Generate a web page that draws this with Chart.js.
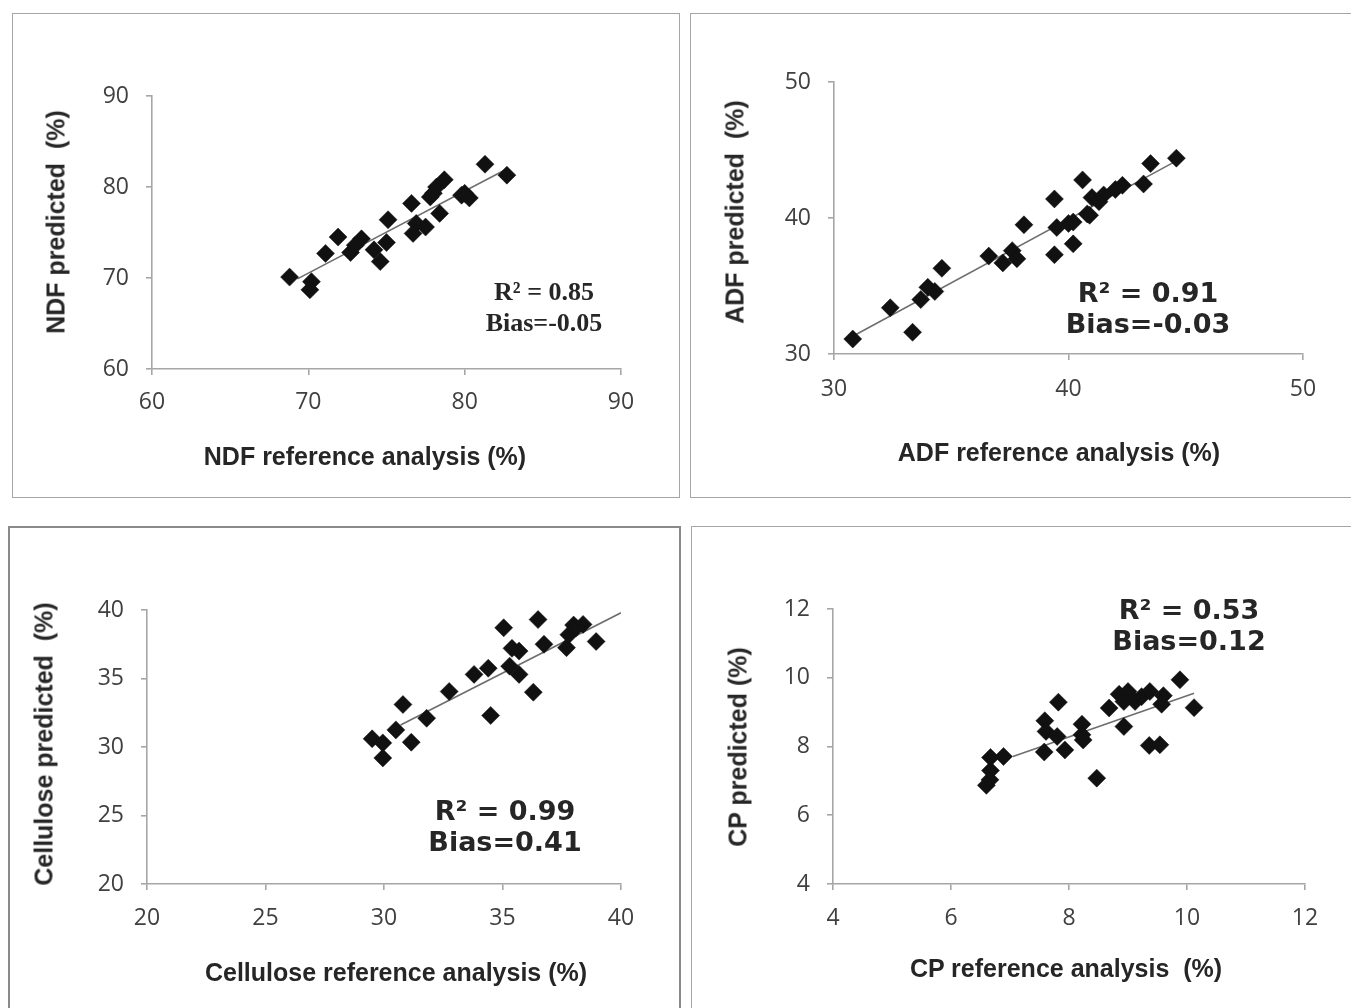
<!DOCTYPE html>
<html><head><meta charset="utf-8">
<script src="https://cdn.jsdelivr.net/npm/chart.js@4.4.1/dist/chart.umd.min.js"></script>
<style>
html,body{margin:0;padding:0;background:#fff;}
#page{position:relative;width:1351px;height:1008px;overflow:hidden;background:#fff;}
canvas{position:absolute;left:0;top:0;}
.box{position:absolute;border:1.5px solid #a6a6a6;box-sizing:border-box;}
.t{position:absolute;white-space:pre;font-family:"Liberation Sans",Arial,sans-serif;font-weight:bold;color:#262626;transform:translate(-50%,-50%);font-size:25px;}
.ty{transform:translate(-50%,-50%) rotate(-90deg);}
.ann{position:absolute;white-space:pre;font-weight:bold;color:#262626;transform:translate(-50%,-50%);text-align:center;}
</style>
</head><body>
<div id="page">
  <div class="box" style="left:12px;top:13px;width:668px;height:485px;"></div>
  <div class="box" style="left:690px;top:13px;width:700px;height:485px;"></div>
  <div class="box" style="left:8px;top:526px;width:673px;height:600px;border-color:#8a8a8a;border-width:2px;"></div>
  <div class="box" style="left:691px;top:526px;width:700px;height:600px;"></div>
  <canvas id="c1" width="1351" height="1008"></canvas>
  <canvas id="c2" width="1351" height="1008"></canvas>
  <canvas id="c3" width="1351" height="1008"></canvas>
  <canvas id="c4" width="1351" height="1008"></canvas>

  <div class="t ty" style="left:56px;top:222px;">NDF predicted  (%)</div>
  <div class="t" style="left:365px;top:456px;">NDF reference analysis (%)</div>
  <div class="ann" style="left:544px;top:307px;font-family:'Liberation Serif','Times New Roman',serif;font-size:26px;line-height:31px;">R² = 0.85
Bias=-0.05</div>

  <div class="t ty" style="left:735px;top:212px;">ADF predicted  (%)</div>
  <div class="t" style="left:1059px;top:452px;">ADF reference analysis (%)</div>
  <div class="ann" style="left:1148px;top:308px;font-family:'DejaVu Sans',Verdana,sans-serif;font-size:27px;line-height:31px;">R² = 0.91
Bias=-0.03</div>

  <div class="t ty" style="left:44px;top:744px;">Cellulose predicted  (%)</div>
  <div class="t" style="left:396px;top:972px;">Cellulose reference analysis (%)</div>
  <div class="ann" style="left:505px;top:826px;font-family:'DejaVu Sans',Verdana,sans-serif;font-size:27px;line-height:31px;">R² = 0.99
Bias=0.41</div>

  <div class="t ty" style="left:738px;top:747px;">CP predicted (%)</div>
  <div class="t" style="left:1066px;top:968px;">CP reference analysis  (%)</div>
  <div class="ann" style="left:1189px;top:625px;font-family:'DejaVu Sans',Verdana,sans-serif;font-size:27px;line-height:31px;">R² = 0.53
Bias=0.12</div>
</div>
<script>
// ---------- DATA ----------
const ndfTicks = [60, 70, 80, 90];
const ndfRef  = [68.8, 70.2, 70.1, 71.1, 71.9, 72.7, 73.0, 73.4, 74.2, 74.6, 75.0, 75.1, 76.6, 76.7, 76.9, 77.5, 78.0, 78.2, 78.7, 78.4, 77.8, 79.8, 80.3, 80.0, 81.3, 82.7];
const ndfPred = [70.1, 69.6, 68.7, 72.7, 74.5, 72.8, 73.6, 74.3, 73.1, 71.8, 73.9, 76.4, 78.2, 74.9, 76.0, 75.6, 79.3, 80.0, 80.8, 77.1, 78.9, 79.1, 78.8, 79.3, 82.5, 81.3];
const ndfTrendX = [69.3, 82.6];
const ndfTrendY = [69.9, 81.9];

const adfTicks = [30, 40, 50];
const adfRef  = [30.8, 32.4, 33.35, 33.7, 34.0, 34.3, 34.6, 36.6, 37.2, 37.6, 37.8, 38.1, 39.4, 39.4, 39.5, 40.0, 40.2, 40.2, 40.6, 40.8, 40.9, 41.0, 41.3, 41.5, 42.0, 42.3, 43.2, 43.5, 44.6];
const adfPred = [31.1, 33.4, 31.6, 34.0, 34.9, 34.6, 36.3, 37.2, 36.7, 37.6, 37.0, 39.5, 41.4, 37.3, 39.3, 39.6, 39.7, 38.1, 42.8, 40.3, 40.2, 41.5, 41.2, 41.7, 42.1, 42.4, 42.5, 44.0, 44.4];
const adfTrendX = [30.8, 44.6];
const adfTrendY = [31.3, 44.2];

const celXTicks = [20, 25, 30, 35, 40];
const celYTicks = [20, 25, 30, 35, 40];
const celRef  = [29.5, 29.95, 29.95, 30.5, 30.8, 31.15, 31.8, 32.75, 33.8, 34.4, 34.5, 35.05, 35.3, 35.4, 35.7, 35.7, 36.3, 36.5, 36.75, 37.7, 37.8, 38.0, 38.4, 38.1, 38.95];
const celPred = [30.6, 30.3, 29.2, 31.25, 33.1, 30.35, 32.1, 34.05, 35.3, 35.75, 32.3, 38.7, 35.9, 37.2, 37.0, 35.3, 34.0, 39.3, 37.5, 37.25, 38.2, 38.9, 38.95, 38.7, 37.7];
const celTrendX = [30.7, 40.0];
const celTrendY = [31.6, 39.8];

const cpXTicks = [4, 6, 8, 10, 12];
const cpYTicks = [4, 6, 8, 10, 12];
const cpRef  = [6.6, 6.66, 6.67, 6.67, 6.89, 7.58, 7.59, 7.61, 7.82, 7.8, 7.93, 8.22, 8.24, 8.22, 8.47, 8.68, 8.85, 8.93, 9.0, 8.93, 9.12, 9.23, 9.37, 9.36, 9.54, 9.6, 9.57, 9.88, 10.12];
const cpPred = [6.87, 7.03, 7.3, 7.68, 7.71, 7.84, 8.75, 8.44, 9.29, 8.29, 7.9, 8.65, 8.19, 8.34, 7.08, 9.12, 9.52, 9.31, 9.6, 8.58, 9.31, 9.45, 9.6, 8.03, 8.05, 9.48, 9.23, 9.94, 9.13];
const cpTrendX = [7.05, 10.12];
const cpTrendY = [7.71, 9.55];

// ---------- STYLE / LAYOUT ----------
const PAGE_W = 1351, PAGE_H = 1008;
const AXIS_W = 70, AXIS_H = 70;
const axisColor = '#a6a6a6';
const tickFont = { family: "'Open Sans', 'Noto Sans', sans-serif", size: 23 };
const tickColor = '#404040';

function pts(xs, ys) { return xs.map((x, i) => ({ x: x, y: ys[i] })); }

function makeChart(id, plot, xr, yr, xTicks, yTicks, xs, ys, tx, ty, xPad) {
  const ctx = document.getElementById(id);
  return new Chart(ctx, {
    type: 'scatter',
    data: {
      datasets: [
        {
          type: 'line', data: pts(tx, ty), borderColor: '#6e6e6e', borderWidth: 1.6,
          pointRadius: 0, fill: false, order: 2
        },
        {
          data: pts(xs, ys), pointStyle: 'rectRot', pointRadius: 9,
          backgroundColor: '#111111', borderColor: '#111111', borderWidth: 0.5, order: 1
        }
      ]
    },
    options: {
      responsive: false, animation: false, events: [],
      layout: { padding: {
        left: plot.l - AXIS_W, top: plot.t,
        right: PAGE_W - plot.r, bottom: PAGE_H - plot.b - AXIS_H } },
      plugins: { legend: { display: false }, tooltip: { enabled: false } },
      scales: {
        x: {
          type: 'linear', min: xr[0], max: xr[1],
          afterFit: s => { s.height = AXIS_H; },
          afterBuildTicks: s => { s.ticks = xTicks.map(v => ({ value: v })); },
          border: { display: true, color: axisColor, width: 1.6 },
          grid: { display: true, drawOnChartArea: false, drawTicks: true, tickLength: 6, color: axisColor, lineWidth: 1.6 },
          ticks: { font: tickFont, color: tickColor, padding: xPad, maxRotation: 0 }
        },
        y: {
          type: 'linear', min: yr[0], max: yr[1],
          afterFit: s => { s.width = AXIS_W; },
          afterBuildTicks: s => { s.ticks = yTicks.map(v => ({ value: v })); },
          border: { display: true, color: axisColor, width: 1.6 },
          grid: { display: true, drawOnChartArea: false, drawTicks: true, tickLength: 6, color: axisColor, lineWidth: 1.6 },
          ticks: { font: tickFont, color: tickColor, padding: 17 }
        }
      }
    }
  });
}

makeChart('c1', { l: 152, t: 96, r: 621, b: 369 }, [60, 90], [60, 90], ndfTicks, ndfTicks, ndfRef, ndfPred, ndfTrendX, ndfTrendY, 14);
makeChart('c2', { l: 834, t: 82, r: 1303, b: 354 }, [30, 50], [30, 50], adfTicks, adfTicks, adfRef, adfPred, adfTrendX, adfTrendY, 16);
makeChart('c3', { l: 147, t: 610, r: 621, b: 884 }, [20, 40], [20, 40], celXTicks, celYTicks, celRef, celPred, celTrendX, celTrendY, 15);
makeChart('c4', { l: 833, t: 609, r: 1305, b: 884 }, [4, 12], [4, 12], cpXTicks, cpYTicks, cpRef, cpPred, cpTrendX, cpTrendY, 15);
</script>
</body></html>
